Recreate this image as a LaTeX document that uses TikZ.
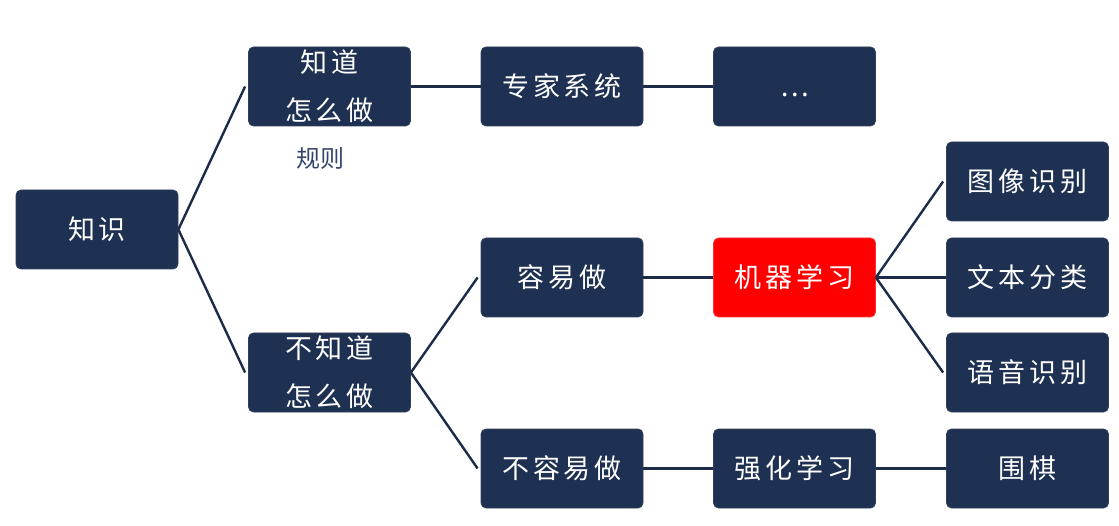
\documentclass[tikz,border=0pt]{standalone}
\usepackage{fontspec}
\newfontfamily\cjk[LetterSpace=14]{Noto Sans CJK SC}
\newfontfamily\cjkplain{Noto Sans CJK SC}
\definecolor{navy}{HTML}{1F3152}
\definecolor{linec}{HTML}{1C2B47}
\definecolor{labelc}{HTML}{34466A}
\begin{document}
\begin{tikzpicture}[x=1pt,y=-1pt,
  box/.style={draw=navy!80!gray,line width=0.8pt,fill=navy,rounded corners=5pt,minimum width=162pt,minimum height=79pt,inner sep=0pt,text=white,align=center,font=\cjk\fontsize{27}{48}\selectfont},
  redbox/.style={box,fill=red,draw=red!80!white},
  conn/.style={draw=linec,line width=2.4pt}]
\useasboundingbox (0,0) rectangle (1119,526);
\node[box] (zs) at (97,229.5) {知识};
\node[box] (zd) at (329.5,86.5) {知道\\怎么做};
\node[box] (bzd) at (329.5,372.5) {不知道\\怎么做};
\node[box] (zj) at (562,86.5) {专家系统};
\node[box] (dots) at (794.5,86.5) {\raisebox{-10pt}[0pt][0pt]{\cjkplain\fontsize{27}{30}\selectfont …}};
\node[box] (ry) at (562,277.5) {容易做};
\node[box] (bry) at (562,468.5) {不容易做};
\node[redbox] (jq) at (794.5,277.5) {机器学习};
\node[box] (qh) at (794.5,468.5) {强化学习};
\node[box] (tx) at (1027.5,181.5) {图像识别};
\node[box] (wb) at (1027.5,277.5) {文本分类};
\node[box] (yy) at (1027.5,372.5) {语音识别};
\node[box] (wq) at (1027.5,468.5) {围棋};
\node[text=labelc,font=\cjkplain\fontsize{24}{28}\selectfont] (gz) at (320,158) {规则};
\draw[conn] (zs.east) -- ([xshift=-3pt]zd.west);
\draw[conn] (zs.east) -- ([xshift=-3pt]bzd.west);
\draw[conn] (zd.east) -- (zj.west);
\draw[conn] (zj.east) -- (dots.west);
\draw[conn] (bzd.east) -- ([xshift=-3pt]ry.west);
\draw[conn] (bzd.east) -- ([xshift=-3pt]bry.west);
\draw[conn] (ry.east) -- (jq.west);
\draw[conn] (bry.east) -- (qh.west);
\draw[conn] (qh.east) -- (wq.west);
\draw[conn] (jq.east) -- ([xshift=-3pt]tx.west);
\draw[conn] (jq.east) -- (wb.west);
\draw[conn] (jq.east) -- ([xshift=-3pt]yy.west);
\end{tikzpicture}
\end{document}
